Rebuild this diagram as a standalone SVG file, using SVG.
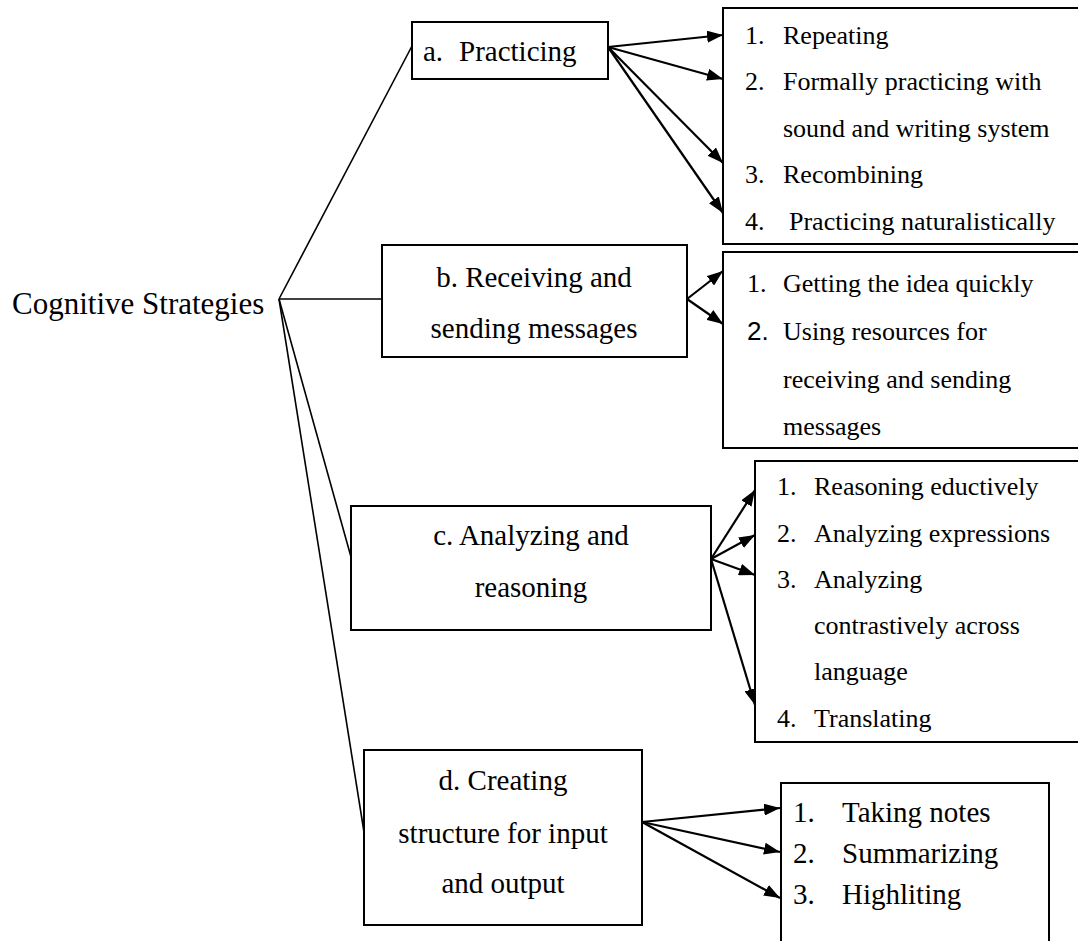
<svg xmlns="http://www.w3.org/2000/svg" width="1078" height="941" viewBox="0 0 1078 941">
<style>
.box{fill:#fff;stroke:#000;stroke-width:2}
.t{font-family:"Liberation Serif","Times New Roman",serif;fill:#000}
.big{font-size:31px}
.mid{font-size:29px}
.sm{font-size:26px}
.c{text-anchor:middle}
.ln{stroke:#000;stroke-width:1.6;fill:none}
.ar{stroke:#000;stroke-width:2.2;fill:none;marker-end:url(#ah)}
</style>
<defs>
<marker id="ah" viewBox="0 0 16 12" refX="16" refY="6" markerWidth="16" markerHeight="12" markerUnits="userSpaceOnUse" orient="auto">
<path d="M0,0 L16,6 L0,12 z" fill="#000"/>
</marker>
</defs>
<rect width="1078" height="941" fill="#fff"/>
<g id="connectors">
<line class="ln" x1="279" y1="299" x2="412" y2="46"/>
<line class="ln" x1="279" y1="299" x2="382" y2="299"/>
<line class="ln" x1="279" y1="299" x2="351" y2="557"/>
<line class="ln" x1="279" y1="299" x2="364" y2="832"/>
<line class="ar" x1="608" y1="47" x2="723" y2="35"/>
<line class="ar" x1="608" y1="47" x2="723" y2="79"/>
<line class="ar" x1="608" y1="47" x2="723" y2="163"/>
<line class="ar" x1="608" y1="47" x2="723" y2="213"/>
<line class="ar" x1="687" y1="299" x2="723" y2="271"/>
<line class="ar" x1="687" y1="299" x2="723" y2="324"/>
<line class="ar" x1="711" y1="559" x2="755" y2="490"/>
<line class="ar" x1="711" y1="559" x2="755" y2="535"/>
<line class="ar" x1="711" y1="559" x2="755" y2="575"/>
<line class="ar" x1="711" y1="559" x2="755" y2="705"/>
<line class="ar" x1="642" y1="822" x2="780" y2="808"/>
<line class="ar" x1="642" y1="822" x2="780" y2="852"/>
<line class="ar" x1="642" y1="822" x2="780" y2="898"/>
</g>
<g id="root">
<text class="t big" x="12" y="314">Cognitive Strategies</text>
</g>
<g id="node-a">
<rect class="box" x="412" y="22" width="196" height="57"/>
<text class="t mid" x="423" y="61">a.</text>
<text class="t mid" x="459" y="61">Practicing</text>
</g>
<g id="node-b">
<rect class="box" x="382" y="245" width="305" height="112"/>
<text class="t mid c" x="534" y="287">b. Receiving and</text>
<text class="t mid c" x="534" y="338">sending messages</text>
</g>
<g id="node-c">
<rect class="box" x="351" y="506" width="360" height="124"/>
<text class="t mid c" x="531" y="545">c. Analyzing and</text>
<text class="t mid c" x="531" y="597">reasoning</text>
</g>
<g id="node-d">
<rect class="box" x="364" y="750" width="278" height="175"/>
<text class="t mid c" x="503" y="790">d. Creating</text>
<text class="t mid c" x="503" y="843">structure for input</text>
<text class="t mid c" x="503" y="893">and output</text>
</g>
<g id="list-a">
<rect class="box" x="723" y="8" width="400" height="236"/>
<text class="t sm" x="745" y="44">1.</text>
<text class="t sm" x="783" y="44">Repeating</text>
<text class="t sm" x="745" y="90">2.</text>
<text class="t sm" x="783" y="90">Formally practicing with</text>
<text class="t sm" x="783" y="137">sound and writing system</text>
<text class="t sm" x="745" y="183">3.</text>
<text class="t sm" x="783" y="183">Recombining</text>
<text class="t sm" x="745" y="230">4.</text>
<text class="t sm" x="789" y="230">Practicing naturalistically</text>
</g>
<g id="list-b">
<rect class="box" x="723" y="252" width="400" height="196"/>
<text class="t sm" x="747" y="292">1.</text>
<text class="t sm" x="783" y="292">Getting the idea quickly</text>
<text class="sm" x="747" y="340" style="font-family:'Liberation Sans',Arial,sans-serif">2.</text>
<text class="t sm" x="783" y="340">Using resources for</text>
<text class="t sm" x="783" y="388">receiving and sending</text>
<text class="t sm" x="783" y="435">messages</text>
</g>
<g id="list-c">
<rect class="box" x="755" y="461" width="400" height="281"/>
<text class="t sm" x="777" y="495">1.</text>
<text class="t sm" x="814" y="495">Reasoning eductively</text>
<text class="t sm" x="777" y="542">2.</text>
<text class="t sm" x="814" y="542">Analyzing expressions</text>
<text class="t sm" x="777" y="588">3.</text>
<text class="t sm" x="814" y="588">Analyzing</text>
<text class="t sm" x="814" y="634">contrastively across</text>
<text class="t sm" x="814" y="680">language</text>
<text class="t sm" x="777" y="727">4.</text>
<text class="t sm" x="814" y="727">Translating</text>
</g>
<g id="list-d">
<rect class="box" x="781" y="783" width="268" height="200"/>
<text class="t mid" x="793" y="822">1.</text>
<text class="t mid" x="842" y="822">Taking notes</text>
<text class="t mid" x="793" y="863">2.</text>
<text class="t mid" x="842" y="863">Summarizing</text>
<text class="t mid" x="793" y="904">3.</text>
<text class="t mid" x="842" y="904">Highliting</text>
</g>
</svg>
